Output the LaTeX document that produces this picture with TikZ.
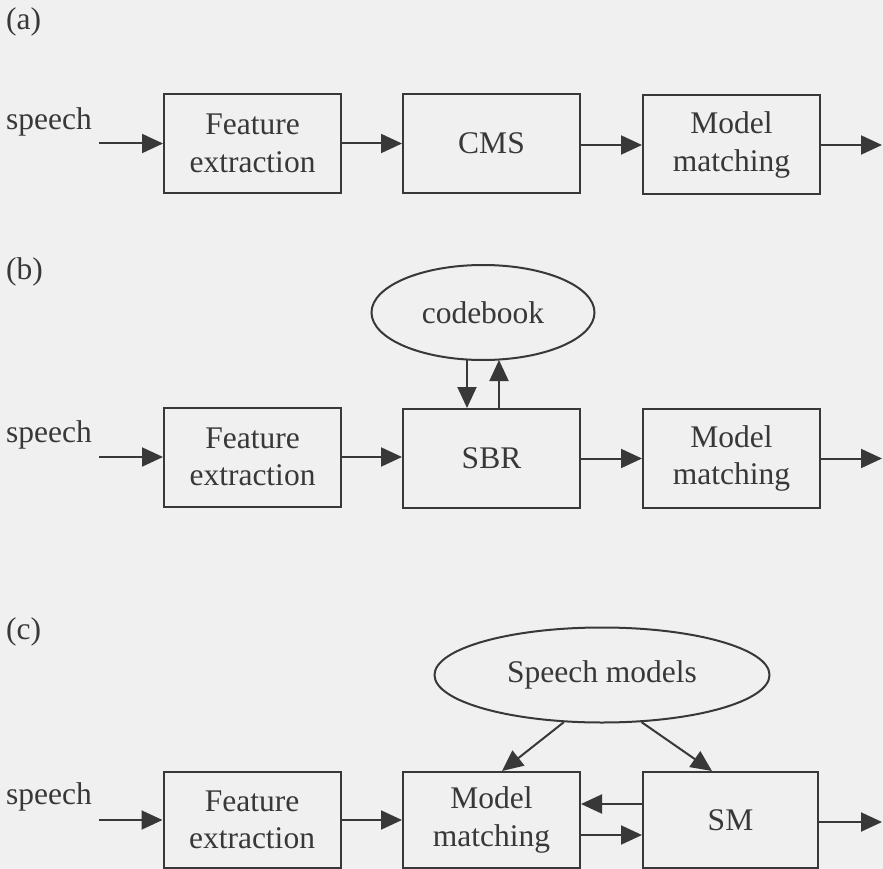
\documentclass[tikz,border=0pt]{standalone}
\usepackage{fontspec}
\setmainfont{Liberation Serif}
\usetikzlibrary{arrows.meta,shapes.geometric,calc}
\definecolor{ink}{HTML}{383838}
\definecolor{paper}{HTML}{F0F0F0}
\begin{document}
\begin{tikzpicture}[x=1pt,y=-1pt,
  txt/.style={text=ink,font=\fontsize{31.5}{37.5}\selectfont},
  box/.style={txt,draw=ink,line width=2pt,minimum width=177pt,minimum height=99pt,inner sep=0pt,align=center},
  oval/.style={txt,ellipse,draw=ink,line width=2pt,inner sep=0pt},
  lbl/.style={txt,inner sep=0pt,anchor=west},
  arr/.style={draw=ink,line width=2pt,-{Triangle[length=21pt,width=19pt]}}]
\fill[paper] (0,0) rectangle (883,869);
\useasboundingbox (0,0) rectangle (883,869);

% (a)
\node[lbl] (la) at (6,22) {(a)};
\node[lbl] (sa) at (6,122) {speech};
\node[box] (fe1) at (252.5,143.5) {Feature\\extraction};
\node[box] (cms) at (491.5,143.5) {CMS};
\node[box] (mm1) at (731.5,145) {Model\\matching};
\coordinate (ina) at (99,143.5);
\coordinate (outa) at (882,145);
\draw[arr] (ina) -- (fe1.west);
\draw[arr] (fe1.east) -- (cms.west |- fe1.east);
\draw[arr] (cms.east |- mm1.west) -- (mm1.west);
\draw[arr] (mm1.east) -- (outa);

% (b)
\node[lbl] (lb) at (6,272) {(b)};
\node[lbl] (sb) at (6,435) {speech};
\node[box] (fe2) at (252.5,457) {Feature\\extraction};
\node[box] (sbr) at (491.5,458.5) {SBR};
\node[box] (mm2) at (731.5,458.5) {Model\\matching};
\node[oval,minimum width=223pt,minimum height=95pt] (cb) at (483,312.5) {codebook};
\coordinate (inb) at (99,457);
\coordinate (outb) at (882,458.5);
\draw[arr] (inb) -- (fe2.west);
\draw[arr] (fe2.east) -- (sbr.west |- fe2.east);
\draw[arr] (sbr.east) -- (mm2.west);
\draw[arr] (mm2.east) -- (outb);
\draw[arr] ($(cb.south)+(-16,-1)$) -- ($(sbr.north)+(-24.5,0)$);
\draw[arr] ($(sbr.north)+(7.5,0)$) -- ($(cb.south)+(16,-1)$);

% (c)
\node[lbl] (lc) at (6,632) {(c)};
\node[lbl] (sc) at (6,797) {speech};
\node[box,minimum height=96pt] (fe3) at (252,820) {Feature\\extraction};
\node[box,minimum height=96pt] (mm3) at (491.5,820) {Model\\matching};
\node[box,minimum height=96pt,minimum width=175pt] (sm) at (730.5,820) {SM};
\node[oval,minimum width=335pt,minimum height=95pt] (sp) at (602,675) {Speech models};
\coordinate (inc) at (99,820);
\coordinate (outc) at (882,822);
\draw[arr] (inc) -- (fe3.west);
\draw[arr] (fe3.east) -- (mm3.west);
\draw[arr] ($(sm.west)+(0,-16)$) -- ($(mm3.east)+(0,-16)$);
\draw[arr] ($(mm3.east)+(0,15)$) -- ($(sm.west)+(0,15)$);
\draw[arr] (sm.east |- outc) -- (outc);
\draw[arr] (sp.231) -- ($(mm3.north)+(10.5,0)$);
\draw[arr] (sp.310) -- ($(sm.north)+(-18.5,0)$);
\end{tikzpicture}
\end{document}
